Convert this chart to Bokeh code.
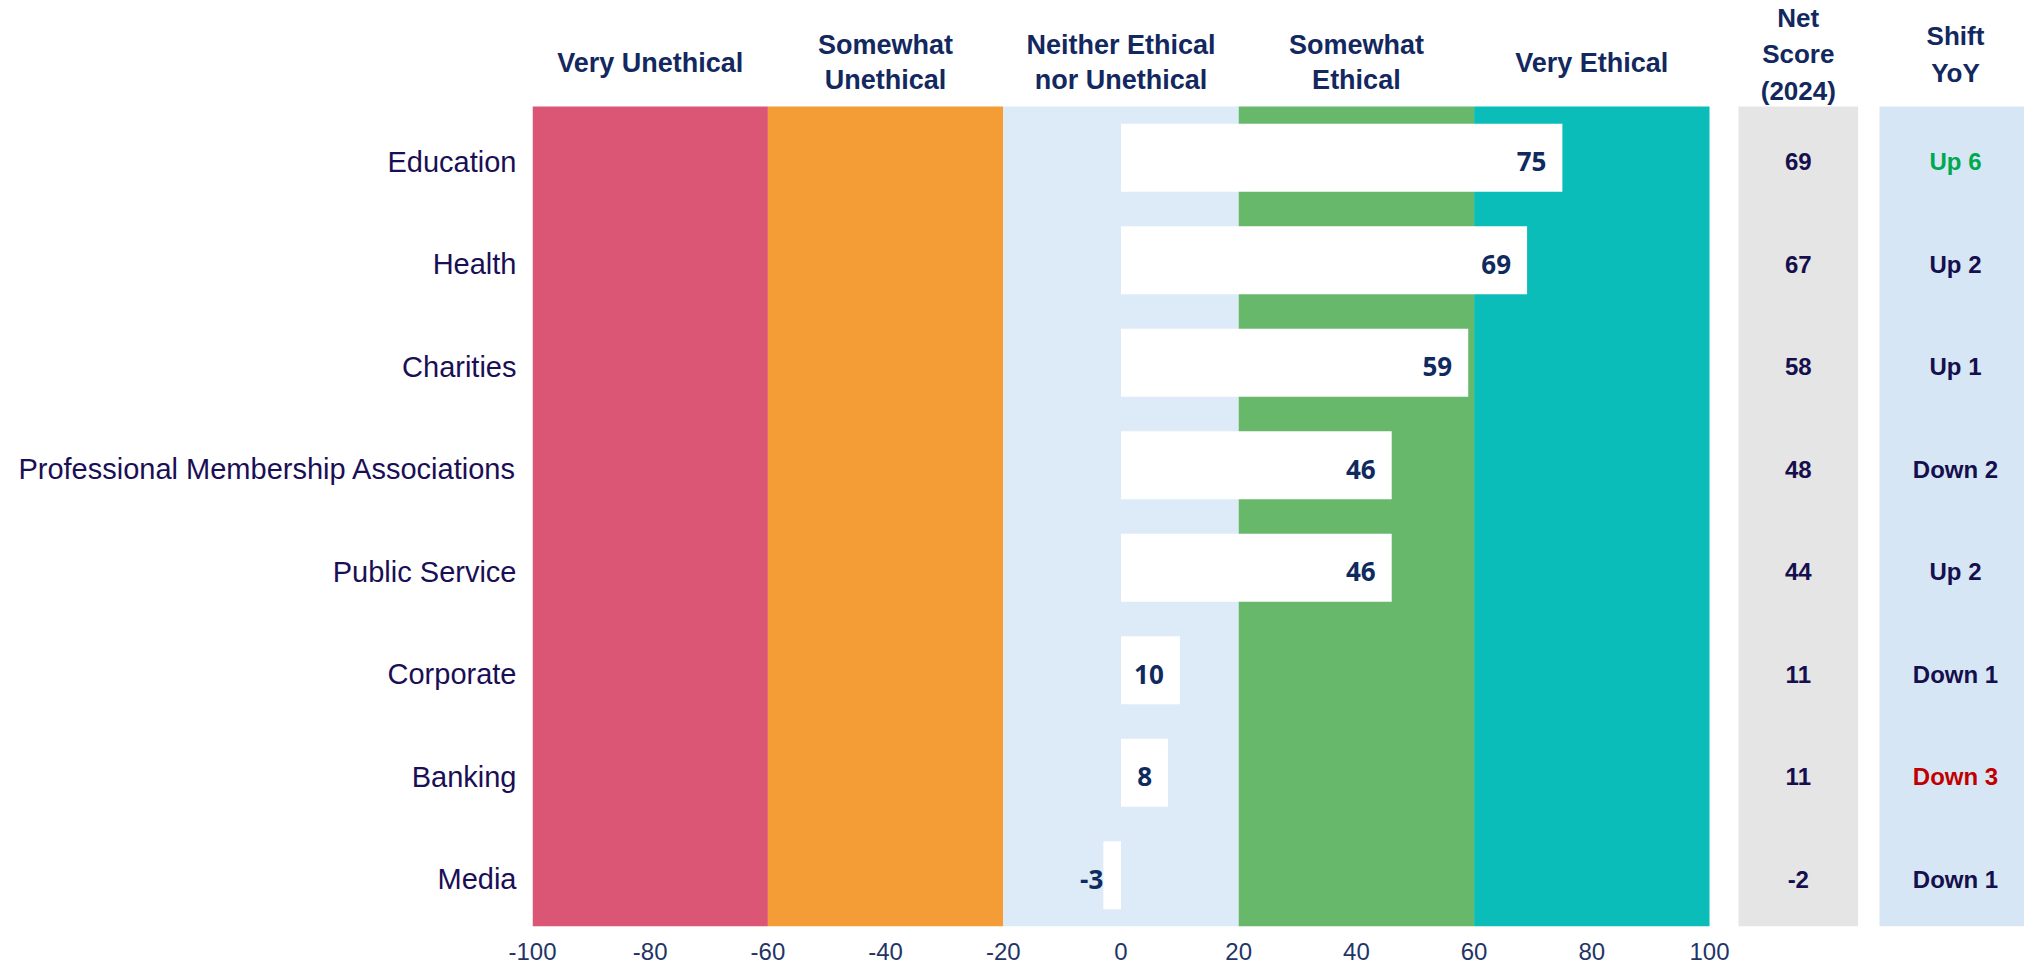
from bokeh.plotting import figure
from bokeh.models import Range1d, FixedTicker, ColumnDataSource, LinearAxis
from bokeh.core.properties import value
from bokeh.embed import file_html
from bokeh.resources import INLINE

# ---------------- data ----------------
categories = ["Education", "Health", "Charities", "Professional Membership Associations",
              "Public Service", "Corporate", "Banking", "Media"]
index_values = [75, 69, 59, 46, 46, 10, 8, -3]
net_score_2024 = [69, 67, 58, 48, 44, 11, 11, -2]
shift_yoy = [6, 2, 1, -2, 2, -1, -3, -1]
band_labels = ["Very Unethical", "Somewhat\nUnethical", "Neither Ethical\nnor Unethical",
               "Somewhat\nEthical", "Very Ethical"]
band_edges = [-100, -60, -20, 20, 60, 100]
x_ticks = [-100, -80, -60, -40, -20, 0, 20, 40, 60, 80, 100]
net_header = "Net\nScore\n(2024)"
shift_header = "Shift\nYoY"

# ---------------- style ----------------
band_colors = ["#DB5675", "#F49C36", "#DCEBF7", "#68B86C", "#0BBDB9"]
HEAD = "#13285E"
CAT = "#1A0F55"
VAL = "#0F2A5E"
TICK = "#1F3566"
COLTXT = "#150F4D"
ARIAL = "Liberation Sans"
DY = 4  # text vertical nudge (screen px)

n = len(categories)
rows = list(range(n))
W, H = 2024, 963
LEFT, BOTTOM = 532, 37
px_per_unit = 5.885
row_px = 102.5
top_px = 106
x_end = -100 + (W - LEFT) / px_per_unit
y_top = -0.5 - top_px / row_px

p = figure(width=W, height=H, output_backend="svg", toolbar_location=None,
           x_range=Range1d(-100, x_end), y_range=Range1d(n - 0.5, y_top),
           min_border_left=LEFT, min_border_right=0, min_border_top=0,
           min_border_bottom=BOTTOM, outline_line_color=None)
p.xgrid.visible = False
p.ygrid.visible = False
p.background_fill_color = "white"

# category bands
p.quad(left=band_edges[:-1], right=band_edges[1:], bottom=[n - 0.5] * 5, top=[-0.5] * 5,
       fill_color=band_colors, line_color=None)

# band headers
band_centers = [(a + b) / 2 for a, b in zip(band_edges[:-1], band_edges[1:])]
p.text(x=band_centers, y=[-0.5 - (top_px - 62) / row_px] * 5, text=band_labels,
       text_align="center", text_baseline="middle", text_font=value(ARIAL),
       text_font_style="bold", text_font_size="27px", text_color=HEAD,
       text_line_height=1.18)

# index bars
p.hbar(y=rows, left=0, right=index_values, height=0.663, fill_color="white", line_color=None)
src = ColumnDataSource(dict(x=index_values, y=rows, t=[str(v) for v in index_values],
                            off=[-16 if v >= 0 else 0 for v in index_values]))
p.text(x="x", y="y", text="t", x_offset="off", y_offset=DY, source=src, text_align="right",
       text_baseline="middle", text_font=value("Open Sans"), text_font_style="bold",
       text_font_size="26px", text_color=VAL)

# Net score / shift columns
gray_l = -100 + (1738 - LEFT) / px_per_unit
gray_r = -100 + (1857.6 - LEFT) / px_per_unit
blue_l = -100 + (1879 - LEFT) / px_per_unit
blue_c = -100 + (1955 - LEFT) / px_per_unit
p.quad(left=[gray_l], right=[gray_r], bottom=[n - 0.5], top=[-0.5],
       fill_color="#E5E5E5", line_color=None)
p.quad(left=[blue_l], right=[x_end], bottom=[n - 0.5], top=[-0.5],
       fill_color="#D7E6F5", line_color=None)
gray_c = (gray_l + gray_r) / 2
p.text(x=[gray_c] * n, y=rows, text=[str(v) for v in net_score_2024], y_offset=DY,
       text_align="center", text_baseline="middle", text_font=value(ARIAL),
       text_font_style="bold", text_font_size="24px", text_color=COLTXT)

shift_txt = [("Up %d" % s) if s > 0 else ("Down %d" % -s) for s in shift_yoy]
shift_col = ["#00A84F" if s == max(shift_yoy) else ("#C00000" if s == min(shift_yoy) else COLTXT)
             for s in shift_yoy]
p.text(x=[blue_c] * n, y=rows, text=shift_txt, text_color=shift_col, y_offset=DY,
       text_align="center", text_baseline="middle", text_font=value(ARIAL),
       text_font_style="bold", text_font_size="24px")

hy = -0.5 - (top_px - 54) / row_px
p.text(x=[gray_c, blue_c], y=[hy, hy], text=[net_header, shift_header], text_align="center",
       text_baseline="middle", text_font=value(ARIAL), text_font_style="bold",
       text_font_size="26px", text_color=HEAD, text_line_height=1.22)

# x axis
p.xaxis.ticker = FixedTicker(ticks=x_ticks)
p.xaxis.major_label_overrides = {t: str(t) for t in x_ticks}
p.xaxis.major_label_text_font = ARIAL
p.xaxis.major_label_text_font_size = "24px"
p.xaxis.major_label_text_color = TICK
p.xaxis.major_label_standoff = 10
p.xaxis.axis_line_color = None
p.xaxis.major_tick_line_color = None
p.xaxis.minor_tick_line_color = None

# category axis on a slightly shifted range so labels sit a few px lower, like the reference
p.yaxis.visible = False
d = DY / row_px
p.extra_y_ranges = {"lab": Range1d(n - 0.5 - d, y_top - d)}
yax = LinearAxis(y_range_name="lab", ticker=FixedTicker(ticks=rows),
                 major_label_overrides={i: c for i, c in enumerate(categories)},
                 major_label_text_font=ARIAL, major_label_text_font_size="29px",
                 major_label_text_color=CAT, major_label_standoff=10,
                 axis_line_color=None, major_tick_line_color=None,
                 minor_tick_line_color=None)
p.add_layout(yax, "left")

open("out.html", "w").write(file_html(p, INLINE))
